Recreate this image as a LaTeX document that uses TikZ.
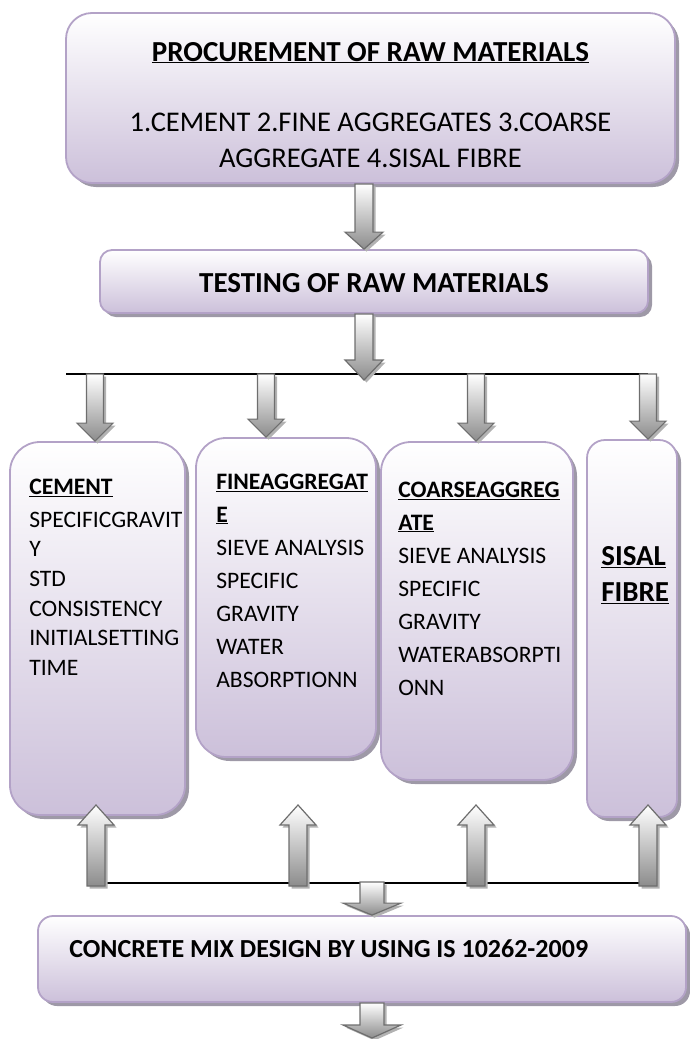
\documentclass[tikz,border=0pt]{standalone}
\usepackage{fontspec}
\setmainfont{Carlito}
\usetikzlibrary{calc,shadows}

\definecolor{boxline}{HTML}{B3A2C7}
\definecolor{boxfill}{HTML}{CCC0DA}
\definecolor{boxshade}{HTML}{9E99A7}
\definecolor{arrline}{HTML}{6E6E6E}
\definecolor{arrfill}{HTML}{8C8C8C}

% block arrows: from, to, shaft half width, head half width, head length
\newcommand{\blockdown}[5]{%
  \path[blockarrow] ($(#1)+(-#3,0)$) -- ($(#1)+(#3,0)$) -- ($(#1|-#2)+(#3,-#5)$) -- ($(#1|-#2)+(#4,-#5)$) -- (#1|-#2) -- ($(#1|-#2)+(-#4,-#5)$) -- ($(#1|-#2)+(-#3,-#5)$) -- cycle;}
\newcommand{\blockup}[5]{%
  \path[blockarrow] ($(#1)+(-#3,0)$) -- ($(#1)+(#3,0)$) -- ($(#1|-#2)+(#3,#5)$) -- ($(#1|-#2)+(#4,#5)$) -- (#1|-#2) -- ($(#1|-#2)+(-#4,#5)$) -- ($(#1|-#2)+(-#3,#5)$) -- cycle;}

\begin{document}
\begin{tikzpicture}[x=1pt, y=-1pt,
  flowbox/.style={draw=boxline, line width=1.8pt, top color=white, bottom color=boxfill,
    drop shadow={shadow xshift=4pt, shadow yshift=-4pt, fill=boxshade, opacity=1}, inner sep=0pt},
  blockarrow/.style={draw=arrline, line width=1.2pt, top color=white, bottom color=arrfill,
    drop shadow={shadow xshift=2.5pt, shadow yshift=-2.5pt, fill=black!30, opacity=1}},
  busline/.style={line width=1.3pt},
  body/.style={font=\fontsize{23.6}{33}\selectfont, align=left, inner sep=0pt},
  head/.style={font=\fontsize{29}{36}\selectfont\bfseries, inner sep=0pt}]

	\useasboundingbox (0,0) rectangle (689,1039);

	\node[flowbox, rounded corners=26pt, minimum width=609pt, minimum height=170pt] (proc) at (370.5,98) {};
	\node[flowbox, rounded corners=12pt, minimum width=548pt, minimum height=63pt] (test) at (374,281.5) {};
	\node[flowbox, rounded corners=30pt, minimum width=175pt, minimum height=373pt] (cement) at (97.5,628.5) {};
	\node[flowbox, rounded corners=30pt, minimum width=180pt, minimum height=319pt] (fine) at (286,597.5) {};
	\node[flowbox, rounded corners=30pt, minimum width=192pt, minimum height=338pt] (coarse) at (477,611) {};
	\node[flowbox, rounded corners=18pt, minimum width=90pt, minimum height=377pt] (sisal) at (632,628.5) {};
	\node[flowbox, rounded corners=15pt, minimum width=648pt, minimum height=86pt] (mix) at (362,959) {};

	\node[anchor=north, align=center, inner sep=0pt, font=\fontsize{28.5}{36}\selectfont] (proctxt) at ($(proc.north)+(0,29.7)$) {{\fontsize{29}{36}\selectfont\bfseries\underline{PROCUREMENT OF RAW MATERIALS}}\\[34pt] 1.CEMENT 2.FINE AGGREGATES 3.COARSE\\ AGGREGATE 4.SISAL FIBRE};
	\node[head] (testtxt) at ($(test.center)+(0,1.5)$) {TESTING OF RAW MATERIALS};
	\node[body, anchor=north west, font=\fontsize{23.6}{29.6}\selectfont] (cementtxt) at ($(cement.north west)+(20,37.5)$) {\textbf{\underline{CEMENT}}\\[3.4pt] SPECIFICGRAVIT\\ Y\\ STD\\ CONSISTENCY\\ INITIALSETTING\\ TIME};
	\node[body, anchor=north west] (finetxt) at ($(fine.north west)+(21,36.4)$) {\textbf{\underline{FINEAGGREGAT}}\\ \textbf{\underline{E}}\\ SIEVE ANALYSIS\\ SPECIFIC\\ GRAVITY\\ WATER\\ ABSORPTIONN};
	\node[body, anchor=north west] (coarsetxt) at ($(coarse.north west)+(18,40.4)$) {\textbf{\underline{COARSEAGGREG}}\\ \textbf{\underline{ATE}}\\ SIEVE ANALYSIS\\ SPECIFIC\\ GRAVITY\\ WATERABSORPTI\\ ONN};
	\node[head, anchor=north west, align=left] (sisaltxt) at ($(sisal.north west)+(15,107.5)$) {\underline{SISAL}\\ \underline{FIBRE}};
	\node[head, anchor=west, font=\fontsize{26}{32}\selectfont\bfseries] (mixtxt) at ($(mix.west)+(32,-10)$) {CONCRETE MIX DESIGN BY USING IS 10262-2009};

	\coordinate (p1) at ($(proc.south)+(-6.5,0)$);
	\coordinate (p2) at ($(test.south)+(-10,0)$);
	\coordinate (split) at (364,380);
	\coordinate (busL) at (66,374);
	\coordinate (b1) at (95,374);
	\coordinate (b2) at (266,374);
	\coordinate (b3) at (476,374);
	\coordinate (b4) at (648,374);
	\coordinate (u1) at (96,886);
	\coordinate (u2) at (298,886);
	\coordinate (u3) at (476,886);
	\coordinate (u4) at (648,886);
	\coordinate (uptip) at (0,805);
	\coordinate (m1) at (372,882);
	\coordinate (m2) at ($(mix.south)+(10,0)$);
	\coordinate (out) at (372,1038);

	\draw[busline] (busL) -- (b4);
	\draw[busline] ($(u1)+(0,-3)$) -- ($(u4)+(0,-3)$);

	\blockdown{p1}{test.north}{9}{19}{17}
	\blockdown{p2}{split}{9}{19}{20}
	\blockdown{b1}{cement.north}{8.5}{18}{18}
	\blockdown{b2}{fine.north}{8.5}{18}{18}
	\blockdown{b3}{coarse.north}{8.5}{18}{18}
	\blockdown{b4}{sisal.north}{8.5}{18}{18}
	\blockup{u1}{uptip}{9}{18}{20}
	\blockup{u2}{uptip}{9}{18}{20}
	\blockup{u3}{uptip}{9}{18}{20}
	\blockup{u4}{uptip}{9}{18}{20}
	\blockdown{m1}{mix.north}{12}{29}{12}
	\blockdown{m2}{out}{12}{29}{13}

\end{tikzpicture}
\end{document}
